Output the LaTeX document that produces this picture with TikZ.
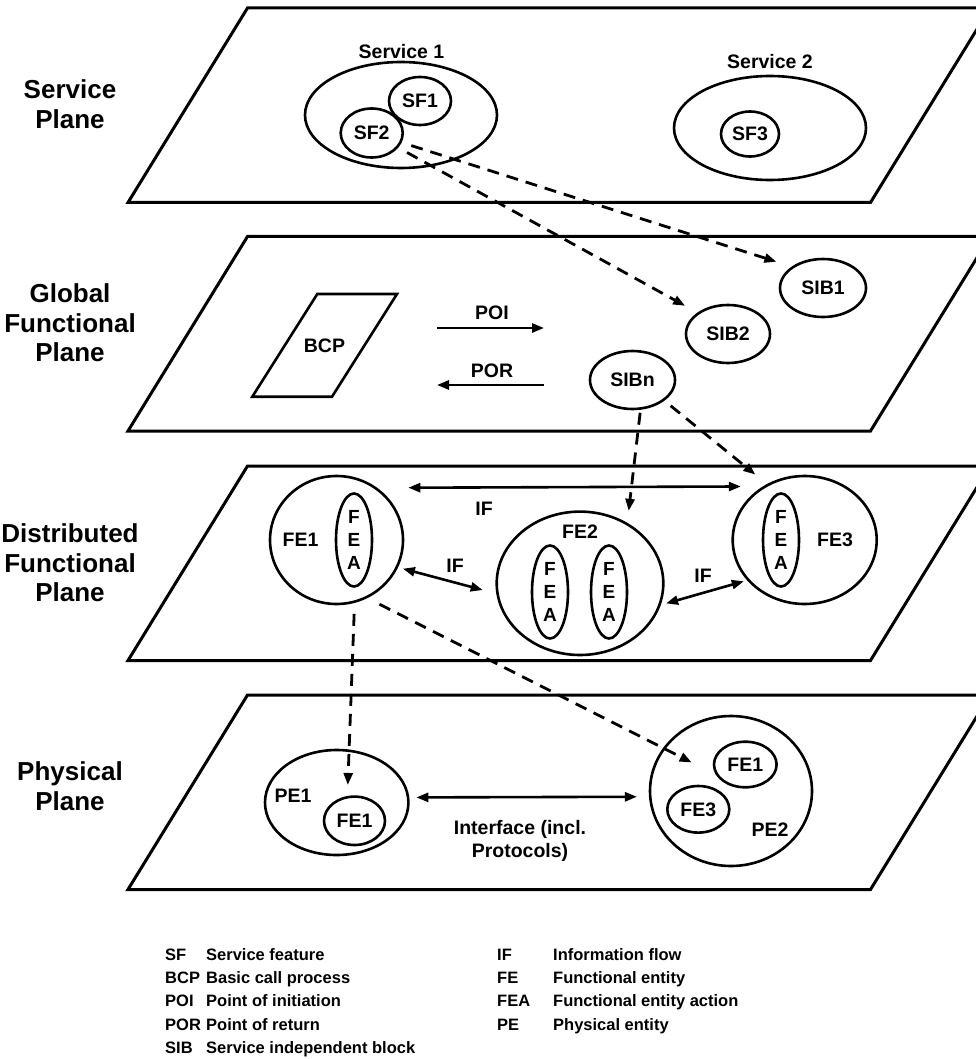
\documentclass[tikz,border=0pt]{standalone}
\usepackage{fontspec}
\setmainfont{Liberation Sans}
\usetikzlibrary{shapes.geometric,arrows.meta}
\begin{document}
\begin{tikzpicture}[x=1pt,y=-1pt,
  >={Triangle[length=12pt,width=9pt]},
  plane/.style={line width=3pt, line join=miter},
  ell/.style={ellipse, draw, line width=2.6pt, inner sep=0pt},
  lbl/.style={font=\fontsize{19.5}{23}\selectfont\bfseries, inner sep=0pt, align=center},
  planelbl/.style={font=\fontsize{26}{29.5}\selectfont\bfseries, align=center, inner sep=0pt},
  fea/.style={ell, minimum width=36pt, minimum height=93pt, align=center,
    font=\fontsize{19}{23}\selectfont\bfseries},
  flow/.style={line width=2.6pt, ->},
  both/.style={line width=2.6pt, <->},
  dflow/.style={line width=2.8pt, dash pattern=on 12pt off 8pt, ->},
  abbr/.style={font=\fontsize{16.5}{20}\selectfont\bfseries, anchor=base west, inner sep=0pt}
]
\useasboundingbox (0,0) rectangle (976,1059);
\fill[white] (0,0) rectangle (976,1059);

% the four planes
\begin{scope}
  \clip (0,0) rectangle (976,1059);
  \foreach \t in {8,236.5,466,695}
    \draw[plane] (128,\t+194.5) -- (247.5,\t) -- (990,\t) -- (870.5,\t+194.5) -- cycle;
\end{scope}

% plane names
\node[planelbl] (lsp) at (70,104) {Service\\Plane};
\node[planelbl] (lgf) at (70,323) {Global\\Functional\\Plane};
\node[planelbl] (ldf) at (70,563) {Distributed\\Functional\\Plane};
\node[planelbl] (lph) at (70,786) {Physical\\Plane};

% ---- service plane
\node[lbl] (s1lbl) at (401.5,52) {Service 1};
\node[ell, minimum width=192pt, minimum height=106pt] (S1) at (401,115) {};
\node[ell, minimum width=62pt, minimum height=48pt, lbl] (SF1) at (420,101) {SF1};
\node[ell, minimum width=62pt, minimum height=49pt, lbl] (SF2) at (371.7,133) {SF2};
\node[lbl] (s2lbl) at (770,62) {Service 2};
\node[ell, minimum width=192pt, minimum height=104pt] (S2) at (770,128) {};
\node[ell, minimum width=58pt, minimum height=45pt, lbl] (SF3) at (750,134) {SF3};

% ---- global functional plane
\draw[line width=2.6pt] (252.3,396.7) -- (317.3,294) -- (397,294) -- (332,396.7) -- cycle;
\node[lbl] (BCP) at (324.5,345.5) {BCP};
\coordinate (poiA) at (437,328);
\coordinate (poiB) at (544,328);
\coordinate (porA) at (544,385);
\coordinate (porB) at (437,385);
\draw[flow] (poiA) -- (poiB);
\draw[flow] (porA) -- (porB);
\node[lbl] (poi) at (492,313) {POI};
\node[lbl] (por) at (492,370.7) {POR};
\node[ell, minimum width=86pt, minimum height=58pt, lbl] (SIB1) at (823,288) {SIB1};
\node[ell, minimum width=84pt, minimum height=58pt, lbl] (SIB2) at (728,334) {SIB2};
\node[ell, minimum width=85pt, minimum height=58pt, lbl] (SIBn) at (632.5,380) {SIBn};

% ---- distributed functional plane
\node[ell, minimum width=133pt, minimum height=128pt] (FE1) at (336.5,540) {};
\node[lbl] (fe1lbl) at (300.5,540) {FE1};
\node[fea] (fea1) at (354,540) {F\\E\\A};
\node[ell, minimum width=166.6pt, minimum height=143.4pt] (FE2) at (580,583.3) {};
\node[lbl] (fe2lbl) at (580,532) {FE2};
\node[fea] (fea2a) at (550,592) {F\\E\\A};
\node[fea] (fea2b) at (609,592) {F\\E\\A};
\node[ell, minimum width=144pt, minimum height=128pt] (FE3) at (804.7,540) {};
\node[fea] (fea3) at (781,540) {F\\E\\A};
\node[lbl] (fe3lbl) at (835,540) {FE3};

\draw[both, shorten <=31pt, shorten >=22pt] (FE1.52) -- (FE3.128);
\node[lbl] (if1) at (484,509) {IF};
\draw[both, shorten <=5pt, shorten >=14pt] (FE1.-24) -- (FE2.187);
\node[lbl] (if2) at (455,566) {IF};
\draw[both, shorten <=5.5pt, shorten >=3.4pt] (FE2.-15) -- (FE3.-145);
\node[lbl] (if3) at (703,576) {IF};

% ---- physical plane
\node[ell, minimum width=143.4pt, minimum height=105pt] (PE1) at (336.7,802.5) {};
\node[lbl] (pe1lbl) at (293,796) {PE1};
\node[ell, minimum width=61pt, minimum height=48.4pt, lbl] (pfe1) at (354.5,820.8) {FE1};
\node[ell, minimum width=162pt, minimum height=150pt] (PE2) at (731,791) {};
\node[ell, minimum width=62.6pt, minimum height=45.6pt, lbl] (qfe1) at (745.3,764.5) {FE1};
\node[ell, minimum width=62pt, minimum height=46.6pt, lbl] (qfe3) at (698.3,809.3) {FE3};
\node[lbl] (pe2lbl) at (770,829.3) {PE2};
\draw[both, shorten <=7pt, shorten >=12pt] (PE1.4) -- (PE2.184.5);
\node[lbl] (iflbl) at (520,841) {Interface (incl.\\Protocols)};

% ---- mappings between planes
\draw[dflow, shorten <=10pt, shorten >=16pt] (SF2) -- (SIB1.north west);
\draw[dflow, shorten <=10pt, shorten >=14pt] (SF2) -- (SIB2.north west);
\draw[dflow, shorten <=3pt, shorten >=12pt] (SIBn.-75) -- (FE2.52);
\draw[dflow, shorten <=8pt, shorten >=15pt] (SIBn.-33) -- (FE3.124);
\draw[dflow, shorten <=11pt, shorten >=11pt] (FE1.-74) -- (pfe1.106.5);
\draw[dflow, shorten <=13.5pt, shorten >=27pt] (FE1.-62) -- (qfe1.199);

% ---- legend
\foreach \y/\a/\d in {960/SF/Service feature, 983/BCP/Basic call process,
    1006/POI/Point of initiation, 1030/POR/Point of return,
    1053/SIB/Service independent block}{
  \node[abbr] at (165,\y) {\a};
  \node[abbr] at (206,\y) {\d};
}
\foreach \y/\a/\d in {960/IF/Information flow, 983/FE/Functional entity,
    1006/FEA/Functional entity action, 1030/PE/Physical entity}{
  \node[abbr] at (497,\y) {\a};
  \node[abbr] at (553,\y) {\d};
}
\end{tikzpicture}
\end{document}
